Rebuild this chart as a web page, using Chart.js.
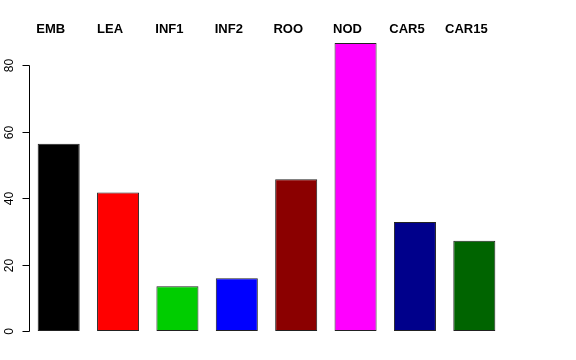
<!DOCTYPE html>
<html>
<head>
<meta charset="utf-8">
<script src="https://cdn.jsdelivr.net/npm/chart.js@4"></script>
<style>
html,body{margin:0;padding:0;background:#fff;}
#wrap{width:576px;height:360px;}
</style>
</head>
<body>
<div id="wrap"><canvas id="c" width="576" height="360"></canvas></div>
<script>
const categories = ["EMB","LEA","INF1","INF2","ROO","NOD","CAR5","CAR15"];
const values = [56.4, 41.7, 13.5, 15.9, 45.7, 86.7, 32.8, 27.2];
const barColors = ["#000000","#FF0000","#00CD00","#0000FF","#8B0000","#FF00FF","#00008B","#006400"];
const yTicks = [0, 20, 40, 60, 80];

const rAxisPlugin = {
  id: 'rAxis',
  afterDraw(chart) {
    const ctx = chart.ctx;
    const y = chart.scales.y;
    const x = chart.scales.x;
    ctx.save();
    const ax = 29.5;
    ctx.strokeStyle = '#000';
    ctx.lineWidth = 1;
    ctx.beginPath();
    ctx.moveTo(ax, Math.round(y.getPixelForValue(yTicks[yTicks.length-1])) + 0.5);
    ctx.lineTo(ax, Math.round(y.getPixelForValue(yTicks[0])) + 0.5);
    ctx.stroke();
    ctx.font = '12px "Liberation Sans", Arial, sans-serif';
    ctx.fillStyle = '#000';
    ctx.textAlign = 'center';
    ctx.textBaseline = 'alphabetic';
    yTicks.forEach(v => {
      const py = Math.round(y.getPixelForValue(v)) + 0.5;
      ctx.beginPath();
      ctx.moveTo(ax, py);
      ctx.lineTo(ax - 7, py);
      ctx.stroke();
      ctx.save();
      ctx.translate(12.5, py);
      ctx.rotate(-Math.PI / 2);
      ctx.fillText(String(v), 0, 0);
      ctx.restore();
    });
    ctx.font = 'bold 13px "Liberation Sans", Arial, sans-serif';
    ctx.textAlign = 'center';
    ctx.textBaseline = 'middle';
    categories.forEach((c, i) => {
      ctx.fillText(c, x.getPixelForValue(i) - 8, 29);
    });
    ctx.restore();
  }
};

new Chart(document.getElementById('c'), {
  type: 'bar',
  data: {
    labels: categories,
    datasets: [{
      data: values,
      backgroundColor: barColors,
      borderColor: '#222',
      borderWidth: 1,
      borderSkipped: false,
      barPercentage: 0.708,
      categoryPercentage: 1.0
    }]
  },
  options: {
    responsive: false,
    animation: false,
    devicePixelRatio: 1,
    layout: { padding: { left: 29, right: 72, top: 32, bottom: 29 } },
    plugins: { legend: { display: false }, tooltip: { enabled: false } },
    scales: {
      x: { display: false },
      y: { display: false, min: 0, max: 90 }
    }
  },
  plugins: [rAxisPlugin]
});
</script>
</body>
</html>
